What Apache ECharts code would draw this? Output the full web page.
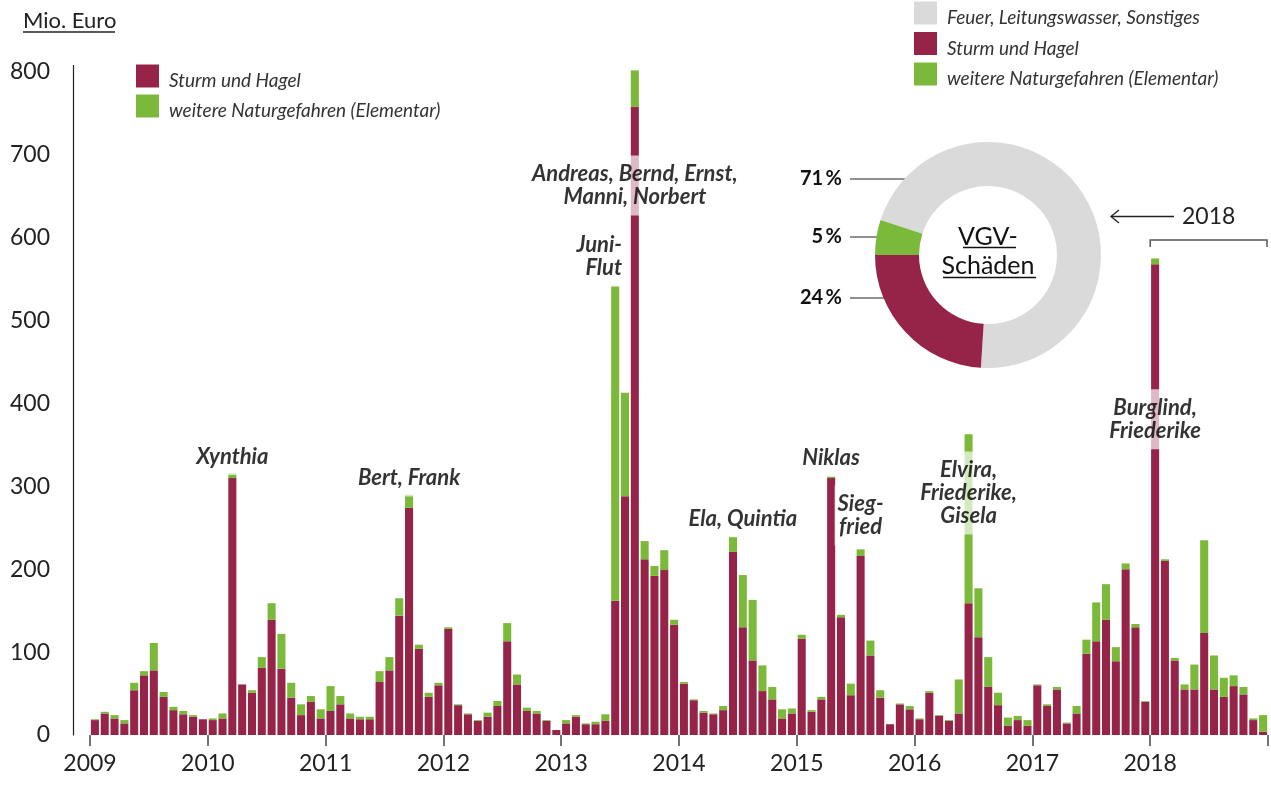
<!DOCTYPE html>
<html>
<head>
<meta charset="utf-8">
<script src="https://cdn.jsdelivr.net/npm/echarts@6/dist/echarts.min.js"></script>
<style>
  html, body { margin: 0; padding: 0; background: #fff; }
  #chart { width: 1271px; height: 785px; }
</style>
</head>
<body>
<div id="chart"></div>
<script>
// Schäden je Monat in Mio. Euro, 2009 bis 2018
var years = ['2009', '2010', '2011', '2012', '2013', '2014', '2015', '2016', '2017', '2018'];

var sturmHagel = [
  18, 26, 20, 14, 54, 72, 78, 46, 30, 25, 22, 19,       // 2009
  18, 20, 310, 61, 51, 81, 139, 80, 45, 24, 40, 20,     // 2010
  29, 37, 20, 19, 19, 64, 78, 144, 274, 104, 46, 60,    // 2011
  128, 36, 25, 17, 22, 35, 113, 61, 29, 26, 17, 6,      // 2012
  14, 22, 13, 13, 17, 162, 288, 758, 212, 192, 199, 133, // 2013
  62, 42, 27, 25, 30, 221, 130, 90, 53, 43, 20, 26,     // 2014
  116, 28, 43, 310, 142, 48, 216, 96, 45, 13, 37, 31,   // 2015
  19, 51, 23, 17, 26, 159, 118, 58, 36, 11, 18, 11,     // 2016
  60, 35, 55, 14, 26, 98, 113, 139, 89, 200, 130, 40,   // 2017
  568, 210, 90, 55, 55, 123, 55, 46, 59, 49, 18, 4      // 2018
];

var elementar = [
  1, 2, 4, 4, 9, 5, 33, 6, 4, 4, 2, 0,
  2, 6, 6, 0, 3, 13, 20, 42, 18, 13, 7, 11,
  30, 10, 6, 3, 3, 13, 16, 21, 16, 5, 5, 3,
  2, 1, 1, 1, 5, 6, 22, 12, 4, 3, 1, 0,
  4, 2, 1, 3, 8, 380, 125, 44, 22, 12, 24, 6,
  2, 1, 2, 1, 5, 18, 63, 73, 31, 15, 11, 6,
  5, 2, 3, 2, 3, 14, 8, 18, 9, 0, 1, 4,
  1, 2, 1, 1, 41, 204, 59, 36, 15, 10, 5, 7,
  1, 2, 3, 1, 9, 17, 47, 43, 17, 7, 4, 1,
  7, 2, 3, 6, 30, 112, 41, 23, 13, 9, 2, 20
];

// Sturmnamen: Monatsindex und Höhe (Mio. Euro) der Beschriftung
var stormNames = ['Xynthia', 'Bert, Frank', 'Andreas, Bernd, Ernst,\nManni, Norbert', 'Juni-\nFlut',
  'Ela, Quintia', 'Niklas', 'Sieg-\nfried', 'Elvira,\nFriederike,\nGisela', 'Burglind,\nFriederike'];
var stormMonth = [14, 32, 55, 54, 66, 75, 78, 89, 108];
var stormY = [336, 310, 663, 577, 261, 334, 265, 292, 381];
var stormAlign = ['center', 'center', 'center', 'right', 'center', 'center', 'center', 'center', 'center'];

// Anteile VGV-Schäden 2018
var pieNames = ['Feuer, Leitungswasser, Sonstiges', 'Sturm und Hagel', 'weitere Naturgefahren (Elementar)'];
var pieShares = [71, 24, 5];

var RED = '#962448';
var GREEN = '#7bb93a';
var GREY = '#dadada';
var FONT = 'Lato';

var months = [];
years.forEach(function (y) {
  for (var m = 1; m <= 12; m++) months.push(y + '-' + (m < 10 ? '0' + m : m));
});

var chart = echarts.init(document.getElementById('chart'));

// Legendentext sitzt etwas tiefer als die Mitte des Kästchens (leere erste Zeile)
var legendText = {
  fontFamily: FONT, fontStyle: 'italic', fontSize: 19, color: '#333',
  lineHeight: 10, padding: [0, 0, 0, 5]
};
var legendFormat = function (name) { return '\n' + name; };

var option = {
  animation: false,
  grid: { left: 90, right: 1.5, top: 72, bottom: 50, containLabel: false },
  legend: [
    {
      data: ['Sturm und Hagel', 'weitere Naturgefahren (Elementar)'],
      orient: 'vertical', left: 136, top: 61.5, padding: 0,
      itemWidth: 23, itemHeight: 23, itemGap: 1, icon: 'rect',
      selectedMode: false, textStyle: legendText, formatter: legendFormat
    },
    {
      data: pieNames,
      orient: 'vertical', left: 914, top: -1.5, padding: 0,
      itemWidth: 23, itemHeight: 23, itemGap: 1.5, icon: 'rect',
      selectedMode: false, textStyle: legendText, formatter: legendFormat
    }
  ],
  xAxis: [
    {
      type: 'category', data: months, position: 'bottom', boundaryGap: true,
      axisLine: { show: false },
      axisLabel: { show: false },
      axisTick: {
        show: true, length: 11,
        interval: function (i) { return i % 12 === 0; },
        lineStyle: { color: '#444', width: 1.5 }
      }
    },
    {
      type: 'value', min: 0, max: 120, interval: 12, position: 'bottom',
      axisLine: { show: false }, axisTick: { show: false }, splitLine: { show: false },
      axisLabel: {
        margin: 17, fontSize: 23, fontFamily: FONT, color: '#222',
        formatter: function (v) { return years[v / 12] || ''; }
      }
    }
  ],
  yAxis: {
    type: 'value', min: 0, max: 800, interval: 100, offset: 17,
    axisLine: { show: true, onZero: false, lineStyle: { color: '#222', width: 1.2 } },
    axisTick: { show: false },
    splitLine: { show: false },
    axisLabel: { margin: 23, fontSize: 23, fontFamily: FONT, color: '#222' }
  },
  series: [
    {
      name: 'Sturm und Hagel', type: 'bar', stack: 'schaden',
      data: sturmHagel, barCategoryGap: '18%', clip: false,
      itemStyle: { color: RED }, silent: true
    },
    {
      name: 'weitere Naturgefahren (Elementar)', type: 'bar', stack: 'schaden',
      data: elementar, barCategoryGap: '18%', clip: false,
      itemStyle: { color: GREEN }, silent: true
    },
    {
      name: 'Stürme', type: 'scatter', symbolSize: 1, silent: true, z: 5,
      itemStyle: { color: 'rgba(0,0,0,0)' },
      data: stormNames.map(function (n, i) {
        return { name: n, value: [stormMonth[i], stormY[i]], label: { align: stormAlign[i] } };
      }),
      label: {
        show: true, position: 'inside', formatter: '{b}',
        fontFamily: FONT, fontWeight: 'bold', fontStyle: 'italic', fontSize: 22,
        lineHeight: 23, color: '#000',
        backgroundColor: 'rgba(255,255,255,0.85)', padding: [7, 3]
      }
    },
    {
      name: 'VGV-Schäden', type: 'pie', center: [988, 255], radius: [69, 113],
      startAngle: 162, clockwise: true, silent: true, avoidLabelOverlap: false,
      data: pieNames.map(function (n, i) {
        return { name: n, value: pieShares[i], itemStyle: { color: [GREY, RED, GREEN][i] } };
      }),
      label: {
        show: true, position: 'outside',
        formatter: function (p) { return p.value + '\u2009%'; },
        fontFamily: FONT, fontWeight: 'bold', fontSize: 20, color: '#111'
      },
      labelLine: { show: true, lineStyle: { color: '#222', width: 1 } },
      labelLayout: function (p) {
        // [Höhe, Ende der Linie im Ring]
        var pos = [[179, 909], [298, 889], [237, 889]][p.dataIndex];
        return {
          x: 842, y: pos[0], align: 'right', verticalAlign: 'middle',
          labelLinePoints: [[pos[1], pos[0]], [850, pos[0]], [850, pos[0]]]
        };
      }
    }
  ]
};

chart.setOption(option);

// Klammer über 2018 an der Achse ausrichten
var bx0 = chart.convertToPixel({ xAxisIndex: 1 }, 108);
var bx1 = chart.convertToPixel({ xAxisIndex: 1 }, 120) - 1;

chart.setOption({
  graphic: [
    { type: 'text', x: 23, y: 21, style: { text: 'Mio. Euro', fontFamily: FONT, fontSize: 22, fill: '#222', verticalAlign: 'middle' } },
    { type: 'line', shape: { x1: 23, y1: 32, x2: 115, y2: 32 }, style: { stroke: '#222', lineWidth: 1.5 } },
    { type: 'line', shape: { x1: 73.5, y1: 65, x2: 73.5, y2: 72 }, style: { stroke: '#222', lineWidth: 1.2 } },
    { type: 'text', x: 988, y: 237, style: { text: 'VGV-', fontFamily: FONT, fontSize: 25, fill: '#111', align: 'center', verticalAlign: 'middle' } },
    { type: 'line', shape: { x1: 963, y1: 247.5, x2: 1016, y2: 247.5 }, style: { stroke: '#111', lineWidth: 1.5 } },
    { type: 'text', x: 988, y: 266, style: { text: 'Schäden', fontFamily: FONT, fontSize: 25, fill: '#111', align: 'center', verticalAlign: 'middle' } },
    { type: 'line', shape: { x1: 943, y1: 277.5, x2: 1036, y2: 277.5 }, style: { stroke: '#111', lineWidth: 1.5 } },
    { type: 'line', shape: { x1: 1111, y1: 216.5, x2: 1174, y2: 216.5 }, style: { stroke: '#222', lineWidth: 1.3 } },
    { type: 'polyline', shape: { points: [[1119, 210], [1111, 216.5], [1119, 223]] }, style: { stroke: '#222', lineWidth: 1.3, fill: null } },
    { type: 'text', x: 1182, y: 217, style: { text: '2018', fontFamily: FONT, fontSize: 23, fill: '#222', verticalAlign: 'middle' } },
    { type: 'polyline', shape: { points: [[bx0, 247], [bx0, 240], [bx1, 240], [bx1, 247]] }, style: { stroke: '#555', lineWidth: 1.5, fill: null } }
  ]
});
</script>
</body>
</html>
